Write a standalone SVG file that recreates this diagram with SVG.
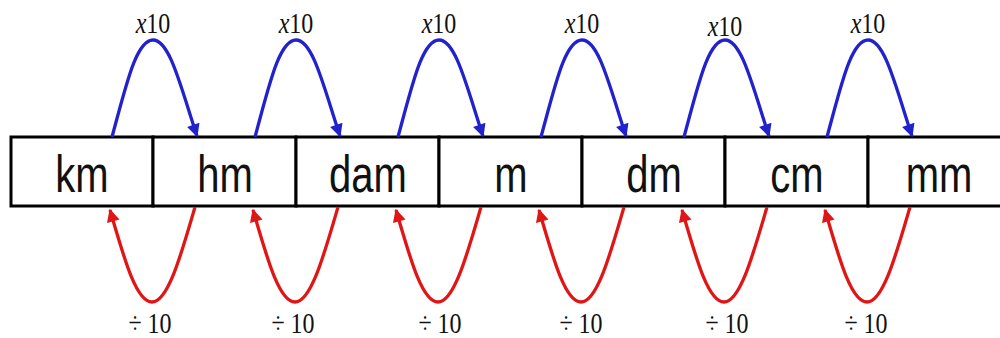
<svg xmlns="http://www.w3.org/2000/svg" xmlns:xlink="http://www.w3.org/1999/xlink" width="1000" height="338" viewBox="0 0 1000 338">
<style>
.cell{fill:#fff;stroke:#000;stroke-width:3}
.unit{font-family:"Liberation Sans",Arial,sans-serif;font-size:40px;fill:#111;text-anchor:middle}
.lab{font-family:"Liberation Serif","Times New Roman",serif;font-size:24px;fill:#111;text-anchor:middle}
.up{fill:none;stroke:#2222cc;stroke-width:3.3}
.dn{fill:none;stroke:#e01515;stroke-width:3.3}
</style>
<defs>
<marker id="ab" viewBox="0 0 10 10" refX="9" refY="5" markerWidth="15" markerHeight="13" markerUnits="userSpaceOnUse" orient="auto"><path d="M0,0 L10,5 L0,10 z" fill="#2222cc"/></marker>
<marker id="ar" viewBox="0 0 10 10" refX="9" refY="5" markerWidth="15" markerHeight="13" markerUnits="userSpaceOnUse" orient="auto"><path d="M0,0 L10,5 L0,10 z" fill="#e01515"/></marker>
<path id="upArc" class="up" d="M112,137 C126,86 136,40 153,40 C170,40 181,88 197,136" marker-end="url(#ab)"/>
<path id="dnArc" class="dn" d="M195,207 C181,255 168,302 152,302 C136,302 124,258 110,210" marker-end="url(#ar)"/>
</defs>
<g id="cells">
<g id="km"><rect class="cell" x="11" y="137" width="142" height="69"/><text class="unit" transform="translate(82,192) scale(1,1.28)">km</text></g>
<g id="hm"><rect class="cell" x="153" y="137" width="143" height="69"/><text class="unit" transform="translate(225,192) scale(1,1.28)">hm</text></g>
<g id="dam"><rect class="cell" x="296" y="137" width="143" height="69"/><text class="unit" transform="translate(368,192) scale(1,1.28)">dam</text></g>
<g id="m"><rect class="cell" x="439" y="137" width="143" height="69"/><text class="unit" transform="translate(511,192) scale(1,1.28)">m</text></g>
<g id="dm"><rect class="cell" x="582" y="137" width="143" height="69"/><text class="unit" transform="translate(654,192) scale(1,1.28)">dm</text></g>
<g id="cm"><rect class="cell" x="725" y="137" width="143" height="69"/><text class="unit" transform="translate(797,192) scale(1,1.28)">cm</text></g>
<g id="mm"><rect class="cell" x="868" y="137" width="143" height="69"/><text class="unit" transform="translate(939,192) scale(1,1.28)">mm</text></g>
</g>
<g id="connectors">
<use xlink:href="#upArc"/>
<use xlink:href="#upArc" x="143"/>
<use xlink:href="#upArc" x="286"/>
<use xlink:href="#upArc" x="429"/>
<use xlink:href="#upArc" x="572"/>
<use xlink:href="#upArc" x="715"/>
<use xlink:href="#dnArc"/>
<use xlink:href="#dnArc" x="143"/>
<use xlink:href="#dnArc" x="286"/>
<use xlink:href="#dnArc" x="429"/>
<use xlink:href="#dnArc" x="572"/>
<use xlink:href="#dnArc" x="715"/>
</g>
<g id="labels">
<text class="lab" transform="translate(153,33) scale(1,1.2)"><tspan font-style="italic">x</tspan>10</text>
<text class="lab" transform="translate(296,33) scale(1,1.2)"><tspan font-style="italic">x</tspan>10</text>
<text class="lab" transform="translate(439,33) scale(1,1.2)"><tspan font-style="italic">x</tspan>10</text>
<text class="lab" transform="translate(582,33) scale(1,1.2)"><tspan font-style="italic">x</tspan>10</text>
<text class="lab" transform="translate(725,36) scale(1,1.2)"><tspan font-style="italic">x</tspan>10</text>
<text class="lab" transform="translate(868,33) scale(1,1.2)"><tspan font-style="italic">x</tspan>10</text>
<text class="lab" transform="translate(150,333) scale(1,1.2)">÷ 10</text>
<text class="lab" transform="translate(293,333) scale(1,1.2)">÷ 10</text>
<text class="lab" transform="translate(440,333) scale(1,1.2)">÷ 10</text>
<text class="lab" transform="translate(581,333) scale(1,1.2)">÷ 10</text>
<text class="lab" transform="translate(727,333) scale(1,1.2)">÷ 10</text>
<text class="lab" transform="translate(866,333) scale(1,1.2)">÷ 10</text>
</g>
</svg>
